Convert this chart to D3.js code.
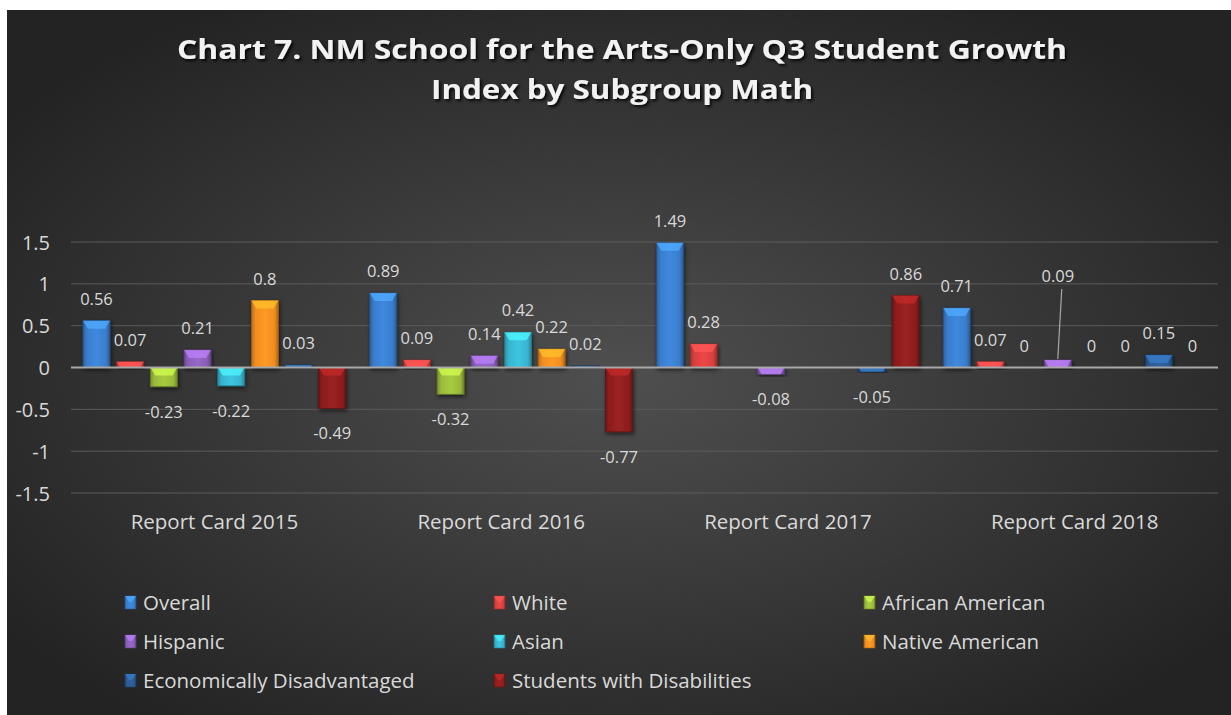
<!DOCTYPE html>
<html>
<head>
<meta charset="utf-8">
<script src="https://cdnjs.cloudflare.com/ajax/libs/d3/7.8.5/d3.min.js"></script>
<style>
  body { margin: 0; background: #fff; }
  svg { display: block; }
  text { font-family: "Open Sans", "Noto Sans", sans-serif; }
</style>
</head>
<body>
<svg id="chart" width="1231" height="715"></svg>
<script>
const categories = ["Report Card 2015", "Report Card 2016", "Report Card 2017", "Report Card 2018"];
const seriesNames = ["Overall", "White", "African American", "Hispanic", "Asian",
                     "Native American", "Economically Disadvantaged", "Students with Disabilities"];
const seriesColors = ["#3a7dcc", "#d8403f", "#9aba3a", "#8a5eb8", "#38b4cf", "#f08d1f", "#2a5b93", "#8e1e1e"];
// values per series, one entry per report card (null = no bar)
const overall   = [0.56, 0.89, 1.49, 0.71];
const white     = [0.07, 0.09, 0.28, 0.07];
const afAmer    = [-0.23, -0.32, null, 0];
const hispanic  = [0.21, 0.14, -0.08, 0.09];
const asian     = [-0.22, 0.42, null, 0];
const nativeAm  = [0.8, 0.22, null, 0];
const econDis   = [0.03, 0.02, -0.05, 0.15];
const swd       = [-0.49, -0.77, 0.86, 0];
const yTicks = [-1.5, -1, -0.5, 0, 0.5, 1, 1.5];

const seriesValues = [overall, white, afAmer, hispanic, asian, nativeAm, econDis, swd];

const svg = d3.select("#chart");
const defs = svg.append("defs");

// background
const bg = defs.append("radialGradient").attr("id", "bg")
    .attr("cx", "50%").attr("cy", "52%").attr("r", "62%");
bg.append("stop").attr("offset", "0%").attr("stop-color", "#4f4f4f");
bg.append("stop").attr("offset", "100%").attr("stop-color", "#232323");
svg.append("rect").attr("x", 7).attr("y", 10).attr("width", 1224).attr("height", 705)
    .attr("fill", "url(#bg)");

const shadow = defs.append("filter").attr("id", "shadow")
    .attr("x", "-5%").attr("y", "-20%").attr("width", "110%").attr("height", "150%");
shadow.append("feDropShadow").attr("dx", 2).attr("dy", 2).attr("stdDeviation", 1.5)
    .attr("flood-color", "#000").attr("flood-opacity", 0.85);

const barShadow = defs.append("filter").attr("id", "barShadow")
    .attr("x", "-30%").attr("y", "-30%").attr("width", "160%").attr("height", "160%");
barShadow.append("feDropShadow").attr("dx", 1).attr("dy", 2).attr("stdDeviation", 2)
    .attr("flood-color", "#000").attr("flood-opacity", 0.6);

seriesColors.forEach((c, i) => {
    const g = defs.append("linearGradient").attr("id", "bar" + i)
        .attr("x1", "0%").attr("x2", "100%").attr("y1", "0%").attr("y2", "0%");
    g.append("stop").attr("offset", "0%").attr("stop-color", d3.color(c).darker(0.7));
    g.append("stop").attr("offset", "15%").attr("stop-color", c);
    g.append("stop").attr("offset", "50%").attr("stop-color", d3.color(c).brighter(0.25));
    g.append("stop").attr("offset", "85%").attr("stop-color", c);
    g.append("stop").attr("offset", "100%").attr("stop-color", d3.color(c).darker(0.9));
});

// title
const title = svg.append("g").attr("filter", "url(#shadow)")
    .attr("fill", "#f2f2f2").attr("font-weight", "bold").attr("font-size", 26)
    .attr("text-anchor", "middle");
title.append("text").attr("x", 622).attr("y", 59)
    .attr("textLength", 890).attr("lengthAdjust", "spacingAndGlyphs")
    .text("Chart 7. NM School for the Arts-Only Q3 Student Growth");
title.append("text").attr("x", 622).attr("y", 99)
    .attr("textLength", 382).attr("lengthAdjust", "spacingAndGlyphs")
    .text("Index by Subgroup Math");

// scales
const y = d3.scaleLinear().domain([-1.5, 1.5]).range([493, 242]);
const x0 = d3.scaleBand().domain(categories).range([71, 1218]);
const x1 = d3.scaleBand().domain(d3.range(seriesNames.length))
    .range([12, x0.bandwidth() - 12]).paddingInner(0.2);

// gridlines
svg.append("g").selectAll("line").data(yTicks.filter(t => t !== 0)).join("line")
    .attr("x1", 71).attr("x2", 1218)
    .attr("y1", d => y(d)).attr("y2", d => y(d))
    .attr("stroke", "#5c5c5c").attr("stroke-width", 1);

// y axis labels
const yAxis = svg.append("g").attr("transform", "translate(50,0)")
    .call(d3.axisLeft(y).tickValues(yTicks).tickSize(0).tickPadding(0).tickFormat(d => String(d)));
yAxis.select(".domain").remove();
yAxis.selectAll("text").attr("fill", "#d9d9d9").attr("font-size", 20)
    .attr("font-family", "'Open Sans', sans-serif").attr("dy", "0.35em");

// category labels
const xAxis = svg.append("g").attr("transform", "translate(0,493)")
    .call(d3.axisBottom(x0).tickSize(0).tickPadding(21));
xAxis.select(".domain").remove();
xAxis.selectAll("text").attr("fill", "#d9d9d9").attr("font-size", 20.5)
    .attr("font-family", "'Open Sans', sans-serif");

// bars
const points = [];
seriesValues.forEach((vals, si) => {
    vals.forEach((v, ci) => {
        if (v !== null) points.push({ si, ci, v });
    });
});

const bars = svg.append("g").selectAll("g").data(points).join("g")
    .attr("transform", d => `translate(${x0(categories[d.ci]) + x1(d.si)},0)`);

const bw = x1.bandwidth();
bars.filter(d => d.v !== 0).each(function(d) {
    const g = d3.select(this);
    const top = y(Math.max(0, d.v));
    const h = Math.abs(y(d.v) - y(0));
    const c = seriesColors[d.si];
    g.append("rect").attr("x", 0).attr("y", top).attr("width", bw).attr("height", Math.max(h, 1.5))
        .attr("fill", `url(#bar${d.si})`)
        .attr("stroke", d3.color(c).darker(1.2)).attr("stroke-width", 0.8)
        .attr("filter", "url(#barShadow)");
    const bh = Math.min(8, h);
    if (bh > 2) {
        const inset = Math.min(5, bh * 0.6);
        g.append("path")
            .attr("d", `M0,${top}L${bw},${top}L${bw - inset},${top + bh}L${inset},${top + bh}Z`)
            .attr("fill", d3.color(c).brighter(0.9)).attr("opacity", 0.75);
    }
});

// zero line
svg.append("line").attr("x1", 71).attr("x2", 1218).attr("y1", y(0)).attr("y2", y(0))
    .attr("stroke", "#a8a8a8").attr("stroke-width", 2);

// data labels
const labelLift = d => (d.si === 3 && d.ci === 3) ? 78 : 16;
const labels = svg.append("g").attr("fill", "#d9d9d9").attr("font-size", 16.5).attr("text-anchor", "middle");
points.forEach(d => {
    const cx = x0(categories[d.ci]) + x1(d.si) + bw / 2;
    const ly = d.v >= 0 ? y(d.v) - labelLift(d) : y(d.v) + 31;
    labels.append("text").attr("x", cx).attr("y", ly).text(d.v);
    if (labelLift(d) > 30) {
        svg.append("line").attr("x1", cx + 4).attr("y1", ly + 7)
            .attr("x2", cx).attr("y2", y(d.v) - 1)
            .attr("stroke", "#a8a8a8").attr("stroke-width", 1.2);
    }
});

// legend
const legendCols = [125, 494, 864];
const legendRows = [603, 642, 681];
const legend = svg.append("g").selectAll("g").data(seriesNames).join("g")
    .attr("transform", (d, i) => `translate(${legendCols[i % 3]},${legendRows[Math.floor(i / 3)]})`);
legend.append("rect").attr("x", 0).attr("y", -7).attr("width", 11).attr("height", 13)
    .attr("fill", (d, i) => `url(#bar${i})`)
    .attr("stroke", (d, i) => d3.color(seriesColors[i]).darker(1)).attr("stroke-width", 0.6);
legend.append("path")
    .attr("d", "M0,-7L11,-7L7,-1L4,-1Z")
    .attr("fill", (d, i) => d3.color(seriesColors[i]).brighter(0.9)).attr("opacity", 0.7);
legend.append("text").attr("x", 18).attr("y", 0).attr("dy", "0.35em")
    .attr("fill", "#d9d9d9").attr("font-size", 20.5).text(d => d);
</script>
</body>
</html>
